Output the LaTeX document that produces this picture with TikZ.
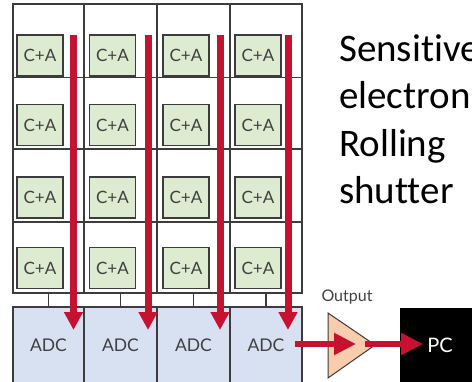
\documentclass[tikz,border=0pt]{standalone}
\usepackage{fontspec}
\setmainfont{Lato}
\newfontfamily\calib[Ligatures={NoCommon}]{Carlito}
\usetikzlibrary{arrows.meta}
\definecolor{cagreen}{RGB}{221,236,208}
\definecolor{adcblue}{RGB}{215,225,241}
\definecolor{redarr}{RGB}{196,18,48}
\definecolor{peach}{RGB}{248,204,172}
\definecolor{gridgray}{RGB}{60,60,60}
\definecolor{labelgray}{RGB}{64,64,64}
\begin{document}
\begin{tikzpicture}[x=1pt,y=-1pt,
  cell/.style={draw=gridgray,line width=1.4pt,inner sep=0pt,outer sep=0pt},
  cabox/.style={draw=gridgray,line width=1.4pt,fill=cagreen,minimum width=46pt,minimum height=41pt,inner sep=0pt,
    text=labelgray,font=\fontsize{17}{20}\selectfont},
  adcbox/.style={draw=gridgray,line width=1.2pt,fill=adcblue,inner sep=0pt,outer sep=0pt,minimum height=76pt,
    text=labelgray,font=\fontsize{17.5}{20}\selectfont},
  stub/.style={draw=gridgray,line width=1.4pt},
  redarrow/.style={draw=redarr,line width=7pt,-{Triangle[width=18pt,length=18pt]}},
  redarrowh/.style={draw=redarr,line width=6pt,-{Triangle[width=21pt,length=22pt]}},
  bigtext/.style={anchor=base west,inner sep=0pt,font=\calib\fontsize{39}{46}\selectfont}
]
\useasboundingbox (0,0) rectangle (472,381);
\clip (0,0) rectangle (472,381);
\fill[white] (0,0) rectangle (472,381);
% grid cells
\foreach \c/\xl/\xr in {1/13/84,2/84/157,3/157/230,4/230/302}{
  \foreach \r/\yt/\yb in {1/4/77.5,2/77.5/149,3/149/222,4/222/293}{
    \node[cell,minimum width={\xr pt-\xl pt},minimum height={\yb pt-\yt pt}]
      (cell\r\c) at ({(\xl+\xr)/2},{(\yt+\yb)/2}) {};
  }
}
% C+A boxes
\foreach \c/\x in {1/40,2/112.5,3/186,4/258}{
  \foreach \r/\y in {1/55.5,2/125,3/197.5,4/268}{
    \node[cabox] (ca\r\c) at (\x,\y) {C+A};
  }
}
% ADC boxes
\foreach \c/\xl/\xr in {1/13/84,2/84/157,3/157/230,4/230/302}{
  \node[adcbox,minimum width={\xr pt-\xl pt}] (adc\c) at ({(\xl+\xr)/2},345) {ADC};
}
% stubs
\foreach \c in {1,2,3,4}{
  \draw[stub] (adc\c.north) -- (cell4\c.south);
}
% red vertical arrows
\foreach \c/\x in {1/73.5,2/148,3/220,4/288}{
  \coordinate (vt\c) at (\x,35);
  \coordinate (vb\c) at (\x,330);
  \draw[redarrow] (vt\c) -- (vb\c);
}
% amplifier
\coordinate (ampa) at (328,313);
\coordinate (ampb) at (375,345);
\coordinate (ampc) at (328,378);
\draw[draw=gridgray,line width=1pt,fill=peach] (ampa) -- (ampb) -- (ampc) -- cycle;
\node[text=labelgray,font=\fontsize{16}{19}\selectfont] (outlbl) at (347,297) {Output};
% PC box
\node[fill=black,minimum width=80pt,minimum height=82pt,inner sep=0pt,anchor=north west] (pcbox) at (400,308) {};
\node[text=white,font=\fontsize{20}{24}\selectfont] (pclbl) at (440,345) {PC};
% horizontal arrows
\coordinate (h1s) at (295,344);
\coordinate (h1e) at (356,344);
\coordinate (h2s) at (365,344);
\coordinate (h2e) at (423,344);
\draw[redarrowh] (h1s) -- (h1e);
\draw[redarrowh] (h2s) -- (h2e);
% right text
\node[bigtext] (t1) at (339,61) {Sensitive};
\node[bigtext] (t2) at (339,108.5) {electron};
\node[bigtext] (t3) at (339,156) {Rolling};
\node[bigtext] (t4) at (339,203.5) {shutter};
\end{tikzpicture}
\end{document}
